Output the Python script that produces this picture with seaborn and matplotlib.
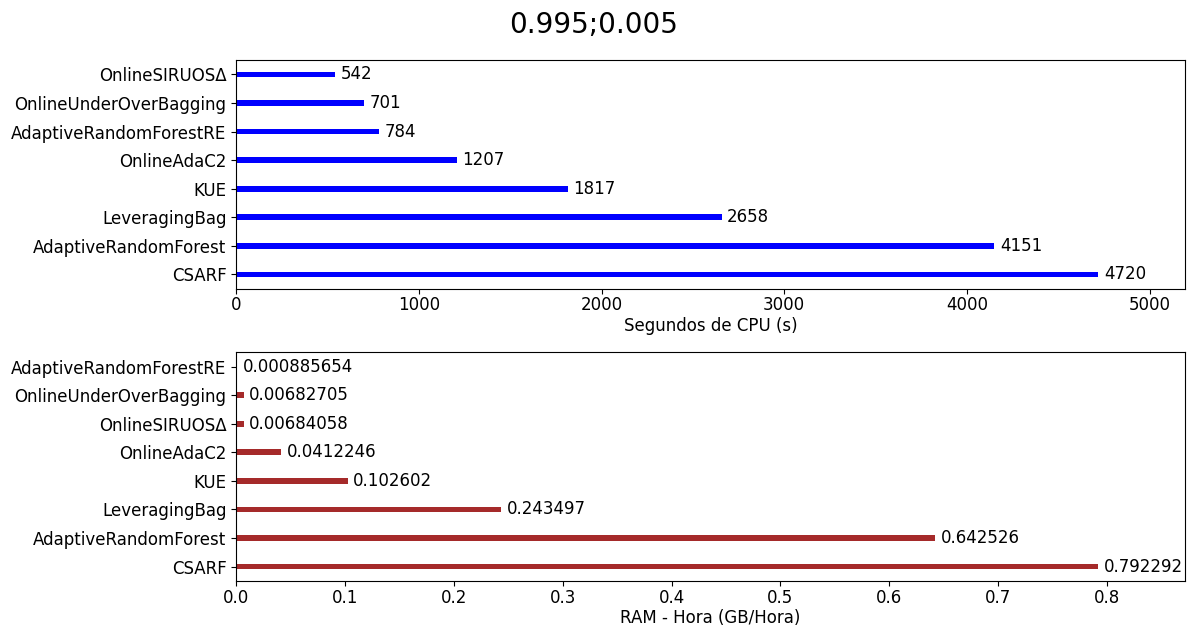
import pandas as pd
import matplotlib
matplotlib.use("Agg")
import matplotlib.pyplot as plt
import seaborn as sns

# Datos (de arriba a abajo)
cpu_metodos = ["OnlineSIRUOSΔ", "OnlineUnderOverBagging", "AdaptiveRandomForestRE",
               "OnlineAdaC2", "KUE", "LeveragingBag", "AdaptiveRandomForest", "CSARF"]
cpu_valores = [542, 701, 784, 1207, 1817, 2658, 4151, 4720]

ram_metodos = ["AdaptiveRandomForestRE", "OnlineUnderOverBagging", "OnlineSIRUOSΔ",
               "OnlineAdaC2", "KUE", "LeveragingBag", "AdaptiveRandomForest", "CSARF"]
ram_valores = [0.000885654, 0.00682705, 0.00684058, 0.0412246, 0.102602,
               0.243497, 0.642526, 0.792292]

plt.rcdefaults()
plt.rcParams["font.family"] = ["DejaVu Sans"]

df_cpu = pd.DataFrame({"metodo": cpu_metodos, "valor": cpu_valores})
df_ram = pd.DataFrame({"metodo": ram_metodos, "valor": ram_valores})

fig, (ax1, ax2) = plt.subplots(2, 1, figsize=(11.87, 6.26), dpi=100)
fig.suptitle("0.995;0.005", fontsize=20, y=0.983)

sns.barplot(data=df_cpu, x="valor", y="metodo", color="blue", width=0.2,
            saturation=1, linewidth=0, ax=ax1, orient="h")
ax1.set_xlim(0, max(cpu_valores) * 1.1)
ax1.set_xlabel("Segundos de CPU (s)", fontsize=12, labelpad=2)
ax1.set_ylabel("")
for i, v in enumerate(cpu_valores):
    ax1.text(v + 30, i, str(v), va="center", fontsize=12)

sns.barplot(data=df_ram, x="valor", y="metodo", color="brown", width=0.2,
            saturation=1, linewidth=0, ax=ax2, orient="h")
ax2.set_xlim(0, max(ram_valores) * 1.1)
ax2.set_xlabel("RAM - Hora (GB/Hora)", fontsize=12, labelpad=2)
ax2.set_ylabel("")
for i, v in enumerate(ram_valores):
    ax2.text(v + 0.005, i, f"{v:g}", va="center", fontsize=12)

for ax in (ax1, ax2):
    ax.tick_params(labelsize=12)
    ax.tick_params(axis="x", pad=2)

plt.subplots_adjust(left=0.199, right=0.998, top=0.904, bottom=0.072, hspace=0.278)
fig.savefig("out.png")
